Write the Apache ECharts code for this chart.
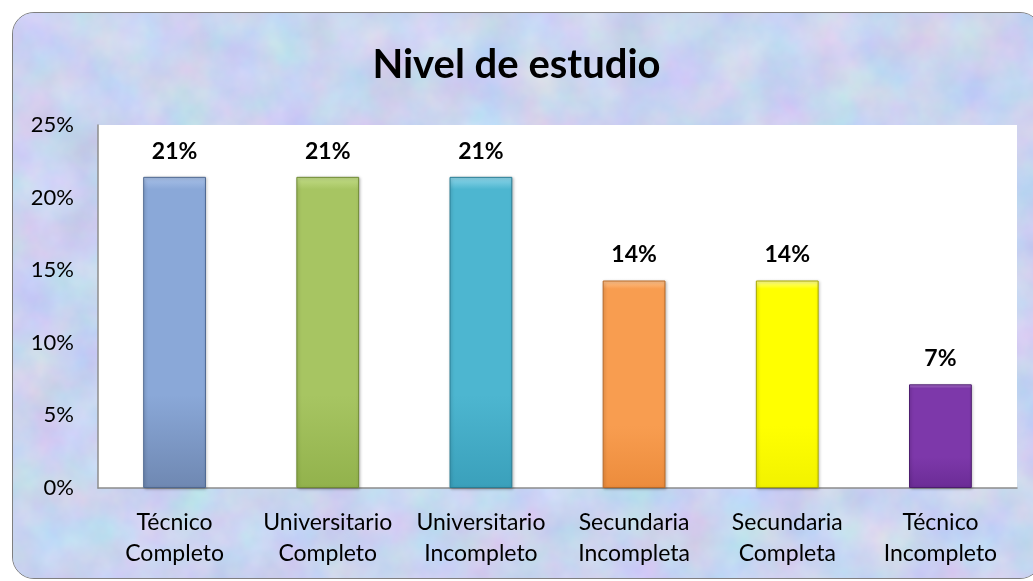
<!DOCTYPE html>
<html>
<head>
<meta charset="utf-8">
<script src="https://cdn.jsdelivr.net/npm/echarts@6/dist/echarts.min.js"></script>
<style>
  html, body { margin: 0; padding: 0; background: #fff; }
  #wrap { position: relative; width: 1033px; height: 581px; overflow: hidden; }
  #frame {
    position: absolute; left: 12px; top: 12px; width: 1030px; height: 567px;
    border: 1.5px solid #7f7f7f; border-radius: 22px; box-sizing: border-box;
    overflow: hidden; background: #c8d4ef;
  }
  #frame svg { position: absolute; left: 0; top: 0; }
  #chart { position: absolute; left: 0; top: 0; width: 1033px; height: 581px; }
</style>
</head>
<body>
<div id="wrap">
  <div id="frame">
    <!-- textura tipo mármol -->
    <svg width="1030" height="567">
      <filter id="marmol" x="0" y="0" width="100%" height="100%" color-interpolation-filters="sRGB">
        <feTurbulence type="fractalNoise" baseFrequency="0.02" numOctaves="4" seed="7"/>
        <feColorMatrix type="matrix" values="0.20 0 0 0 0.69  0 0.16 0 0 0.75  0 0 0.10 0 0.89  0 0 0 0 1"/>
      </filter>
      <rect width="1030" height="567" filter="url(#marmol)"/>
    </svg>
  </div>
  <div id="chart"></div>
</div>
<script>
// datos del gráfico
var categorias = ['Técnico\nCompleto', 'Universitario\nCompleto', 'Universitario\nIncompleto',
  'Secundaria\nIncompleta', 'Secundaria\nCompleta', 'Técnico\nIncompleto'];
var porcentajes = [0.2143, 0.2143, 0.2143, 0.1429, 0.1429, 0.0714];
var colores = [
  ['#a9c1e8', '#8aa8d8', '#6f88b2', '#4f6890'],
  ['#c3dd88', '#a7c562', '#92b24c', '#6f8a34'],
  ['#8fd6ea', '#4db6d0', '#3aa0bb', '#2a7d94'],
  ['#ffc48e', '#f89d50', '#ec8c3c', '#b86a28'],
  ['#ffff9a', '#ffff00', '#f2f200', '#a8a800'],
  ['#b27bd6', '#7d38aa', '#6b2c96', '#4c1c6e']
];

var myChart = echarts.init(document.getElementById('chart'));

// barras con degradado tipo bisel
var datos = [];
for (var i = 0; i < porcentajes.length; i++) {
  datos.push({
    value: porcentajes[i],
    itemStyle: {
      color: new echarts.graphic.LinearGradient(0, 0, 0, 1, [
        { offset: 0, color: colores[i][0] },
        { offset: 0.04, color: colores[i][1] },
        { offset: 0.7, color: colores[i][1] },
        { offset: 1, color: colores[i][2] }
      ]),
      borderColor: colores[i][3],
      borderWidth: 1,
      shadowColor: 'rgba(0,0,0,0.25)',
      shadowBlur: 3,
      shadowOffsetX: 1,
      shadowOffsetY: 1
    }
  });
}

var fuente = 'Lato, "Noto Sans", sans-serif';

var option = {
  animation: false,
  textStyle: { fontFamily: fuente },
  title: {
    text: 'Nivel de estudio',
    left: 'center',
    top: 40,
    textStyle: { fontSize: 40, fontWeight: 'bold', color: '#000', fontFamily: fuente }
  },
  grid: {
    left: 98, right: 16, top: 125, bottom: 93,
    show: true, backgroundColor: '#ffffff', borderWidth: 0
  },
  xAxis: {
    type: 'category',
    data: categorias,
    axisLine: { lineStyle: { color: '#8c8c8c', width: 1.5 } },
    axisTick: { show: false },
    axisLabel: { color: '#000', fontSize: 23, lineHeight: 31, margin: 19, interval: 0 }
  },
  yAxis: {
    type: 'value',
    min: 0, max: 0.25, interval: 0.05,
    axisLine: { show: true, lineStyle: { color: '#8c8c8c', width: 1.5 } },
    axisTick: { show: false },
    splitLine: { show: false },
    axisLabel: {
      color: '#000', fontSize: 22, margin: 24,
      formatter: function (v) { return Math.round(v * 100) + '%'; }
    }
  },
  series: [{
    type: 'bar',
    barWidth: '41%',
    data: datos,
    label: {
      show: true,
      position: 'top',
      distance: 14,
      color: '#000',
      fontSize: 23,
      fontWeight: 'bold',
      formatter: function (p) { return Math.round(p.value * 100) + '%'; }
    }
  }]
};

myChart.setOption(option);
</script>
</body>
</html>
